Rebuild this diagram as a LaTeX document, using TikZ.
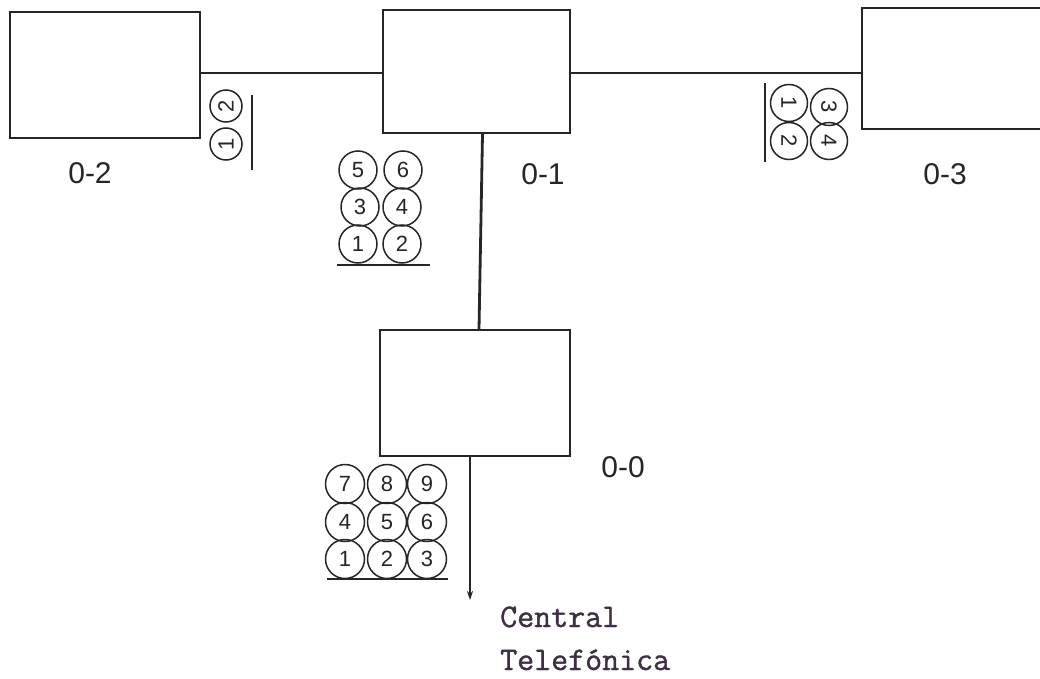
\documentclass[tikz,border=0pt]{standalone}
\usepackage{fontspec}
\setsansfont{Liberation Sans}
\newfontfamily\typefont{Latin Modern Mono}[FakeBold=1.2]
\usetikzlibrary{calc,arrows.meta}
\definecolor{ink}{RGB}{40,36,42}
\definecolor{typeink}{RGB}{62,48,66}
\begin{document}
\begin{tikzpicture}[x=1pt,y=-1pt,
  box/.style={draw=ink,line width=2pt,rectangle,inner sep=0pt},
  wire/.style={draw=ink,line width=2.8pt},
  bar/.style={draw=ink,line width=2.2pt},
  lbl/.style={text=ink,font=\sffamily\fontsize{30}{30}\selectfont},
  typed/.style={text=typeink,anchor=base west,inner sep=0pt,font=\typefont\fontsize{33}{33}\selectfont},
  pin/.style={draw=ink,circle,line width=1.5pt,inner sep=0pt,text=ink,
    font=\sffamily\fontsize{22}{22}\selectfont},
  small/.style={pin,minimum size=32pt},
  big/.style={pin,minimum size=39pt}]
\useasboundingbox (0,0) rectangle (1040,679);
\clip (0,0) rectangle (1040,679);

% equipment boxes
\node[box,minimum width=190pt,minimum height=126pt] (b02) at (105,75) {};
\node[box,minimum width=187pt,minimum height=123pt] (b01) at (476.5,71.5) {};
\node[box,minimum width=200pt,minimum height=121pt] (b03) at (962,68.5) {};
\node[box,minimum width=190pt,minimum height=126pt] (b00) at (475,393) {};

% box labels
\node[lbl] (l02) at (90,173) {0-2};
\node[lbl] (l01) at (543,174) {0-1};
\node[lbl] (l03) at (945,174) {0-3};
\node[lbl] (l00) at (623,467) {0-0};

% links between boxes
\coordinate (j01w) at ($(b01.west)+(0,1.5)$);
\coordinate (j01e) at ($(b01.east)+(0,1.5)$);
\draw[wire] (j01w) -- (j01w -| b02.east);
\draw[wire] (j01e) -- (j01e -| b03.west);
\draw[wire] ($(b01.south)+(6,0)$) -- ($(b00.north)+(4,0)$);
\coordinate (cen) at (470,600);
\draw[wire,line width=2pt,-{Stealth[length=9pt,width=6pt]}] ($(b00.south)+(-5,0)$) -- (cen);

% central office text
\node[typed] (t1) at (500,627) {Central};
\node[typed] (t2) at (500,670) {Telefónica};

% pair group at 0-2 (baseline to the right)
\node[small,rotate=90] (a2) at (226,106) {2};
\node[small,rotate=90] (a1) at (226,144) {1};
\draw[bar] (252,95) -- (252,170);

% pair group at 0-1
\node[big,minimum size=38pt] (c5) at (358,170) {5};
\node[big,minimum size=38pt] (c6) at (403,170) {6};
\node[big,minimum size=38pt] (c3) at (360,207) {3};
\node[big,minimum size=38pt] (c4) at (402,207) {4};
\node[big,minimum size=38pt] (c1) at (358,244) {1};
\node[big,minimum size=38pt] (c2) at (402,244) {2};
\draw[bar] (337,265) -- (430,265);

% pair group at 0-3 (baseline to the left)
\node[pin,minimum size=37pt,rotate=-90] (d1) at (789,103) {1};
\node[pin,minimum size=37pt,rotate=-90] (d3) at (829,107) {3};
\node[pin,minimum size=37pt,rotate=-90] (d2) at (789,141) {2};
\node[pin,minimum size=37pt,rotate=-90] (d4) at (829,141) {4};
\draw[bar] (765,83) -- (765,162);

% pair group at 0-0
\node[big] (e7) at (345,484) {7};
\node[big] (e8) at (387,484) {8};
\node[big] (e9) at (427,484) {9};
\node[big] (e4) at (345,522) {4};
\node[big] (e5) at (387,522) {5};
\node[big] (e6) at (427,522) {6};
\node[big] (e1) at (345,559) {1};
\node[big] (e2) at (387,559) {2};
\node[big] (e3) at (427,559) {3};
\draw[bar] (327,579) -- (448,579);
\end{tikzpicture}
\end{document}
